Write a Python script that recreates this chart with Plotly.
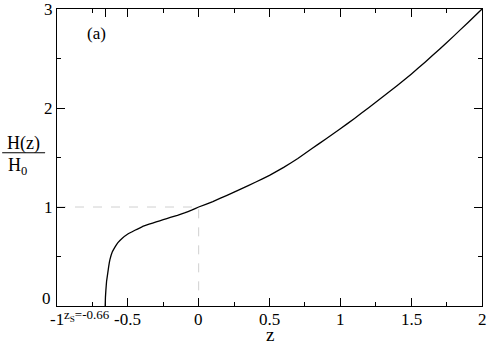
import plotly.graph_objects as go

# Data
z_vals = [-0.66, -0.658, -0.655, -0.65, -0.642, -0.635, -0.626, -0.61, -0.591, -0.57, -0.543,
          -0.5, -0.45, -0.4, -0.35, -0.3, -0.25, -0.2, -0.15, -0.1, -0.05, 0.0,
          0.1, 0.2, 0.3, 0.4, 0.5, 0.6, 0.7, 0.8, 0.9, 1.0,
          1.1, 1.2, 1.3, 1.4, 1.5, 1.6, 1.7, 1.8, 1.9, 2.0]
h_vals = [0.0, 0.09, 0.16, 0.25, 0.33, 0.40, 0.47, 0.545, 0.595, 0.64, 0.68,
          0.727, 0.765, 0.80, 0.826, 0.85, 0.872, 0.894, 0.916, 0.94, 0.968, 1.0,
          1.055, 1.118, 1.183, 1.25, 1.32, 1.40, 1.49, 1.59, 1.69, 1.79,
          1.895, 2.003, 2.113, 2.225, 2.342, 2.465, 2.594, 2.726, 2.862, 3.0]
guide_x = [-1, 0, 0]
guide_y = [1, 1, 0]
x_ticks = [-1, -0.66, -0.5, 0, 0.5, 1, 1.5, 2]
x_ticktext = ["-1", "", "-0.5", "0", "0.5", "1", "1.5", "2"]
x_minor = [-0.75, -0.25, 0.25, 0.75, 1.25, 1.75]
y_ticks = [0, 1, 2, 3]
y_ticktext = ["", "1", "2", "3"]
y_minor = [0.5, 1.5, 2.5]

FONT = "Liberation Serif, Times New Roman, serif"

fig = go.Figure()
fig.add_trace(go.Scatter(x=guide_x, y=guide_y, mode="lines",
                         line=dict(color="#d0d0d0", width=1, dash="dash"),
                         hoverinfo="skip", showlegend=False))
fig.add_trace(go.Scatter(x=z_vals, y=h_vals, mode="lines",
                         line=dict(color="black", width=1.3, shape="spline", smoothing=0.25),
                         showlegend=False))

axis_common = dict(showgrid=False, zeroline=False, showline=True, linecolor="black",
                   linewidth=1.2, mirror="ticks", ticks="inside", ticklen=8,
                   tickcolor="black", tickwidth=1, automargin=False,
                   ticklabeloverflow="allow",
                   tickfont=dict(family=FONT, size=17, color="black"))

fig.update_xaxes(range=[-1, 2], tickmode="array", tickvals=x_ticks,
                 ticktext=["" for _ in x_ticks],
                 minor=dict(tickvals=x_minor, ticks="inside", ticklen=4,
                            tickcolor="black", tickwidth=1),
                 **axis_common)
fig.update_yaxes(range=[0, 3], tickmode="array", tickvals=y_ticks, ticktext=y_ticktext,
                 minor=dict(tickvals=y_minor, ticks="inside", ticklen=4,
                            tickcolor="black", tickwidth=1),
                 **axis_common)

ann_font = dict(family=FONT, color="black")
annotations = [
    dict(x=v, y=0, xref="x", yref="paper", text=t, showarrow=False,
         xanchor="center", yanchor="middle", yshift=-13,
         font=dict(size=17, **ann_font))
    for v, t in zip(x_ticks, x_ticktext) if t
]
annotations += [
    dict(x=0, y=0, xref="paper", yref="y", text="0", showarrow=False,
         xanchor="right", yanchor="middle", xshift=-4, yshift=8,
         font=dict(size=17, **ann_font)),
    dict(x=-0.788, y=0, xref="x", yref="paper", text="z<sub>S</sub>=-0.66", showarrow=False,
         xanchor="center", yanchor="top", yshift=1,
         font=dict(size=13, **ann_font)),
    dict(x=0.5, y=-0.095, xref="x", yref="paper", text="z", showarrow=False,
         xanchor="center", yanchor="middle", font=dict(size=19, **ann_font)),
    dict(x=-0.08, y=0.548, xref="paper", yref="paper", text="H(z)", showarrow=False,
         xanchor="center", yanchor="middle", font=dict(size=18, **ann_font)),
    dict(x=-0.094, y=0.47, xref="paper", yref="paper", text="H<sub>0</sub>", showarrow=False,
         xanchor="center", yanchor="middle", font=dict(size=18, **ann_font)),
    dict(x=0.092, y=0.916, xref="paper", yref="paper", text="(a)", showarrow=False,
         xanchor="center", yanchor="middle", font=dict(size=17, **ann_font)),
]

fig.update_layout(
    width=488, height=346,
    margin=dict(l=57, r=6, t=9, b=40, pad=0),
    paper_bgcolor="white", plot_bgcolor="white",
    annotations=annotations,
    shapes=[dict(type="line", xref="paper", yref="paper",
                 x0=-0.129, x1=-0.028, y0=0.516, y1=0.516,
                 line=dict(color="black", width=1.2))],
)

fig.write_html("out.html", config={"displayModeBar": False},
               post_script="document.body.style.margin='0';document.body.style.overflow='hidden';")
